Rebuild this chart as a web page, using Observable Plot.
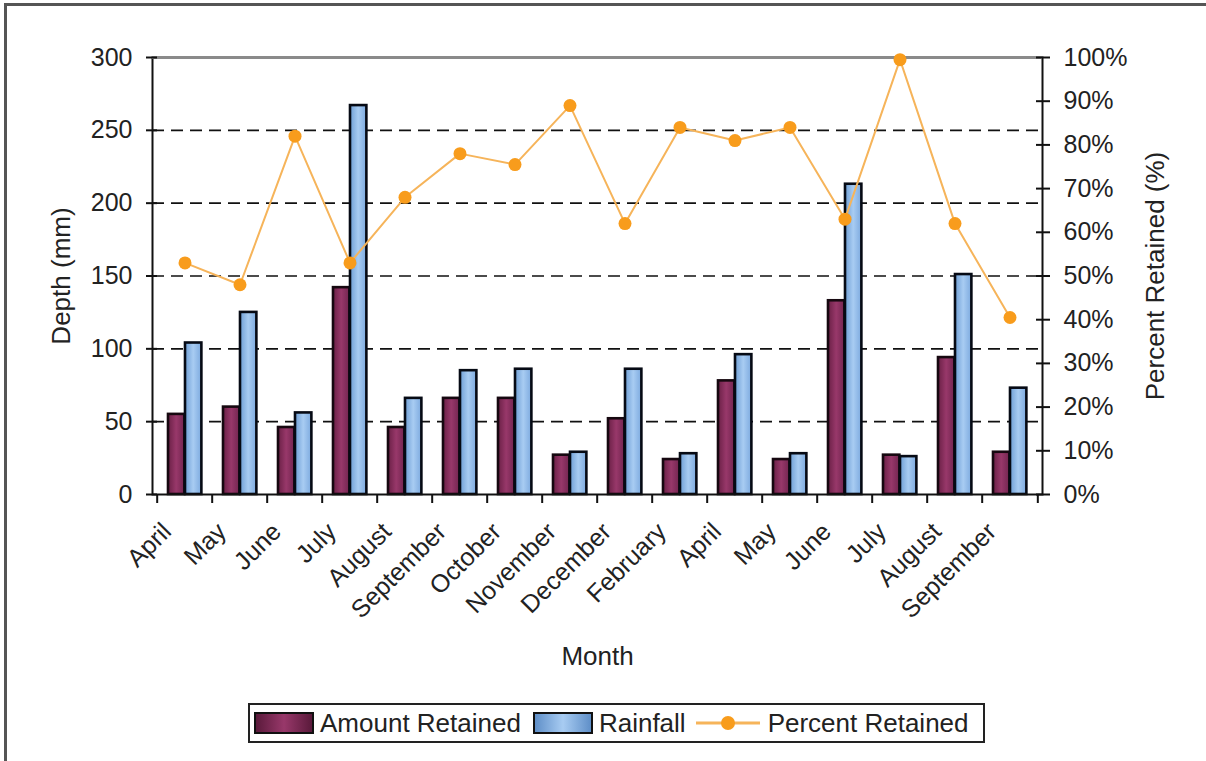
<!DOCTYPE html>
<html>
<head>
<meta charset="utf-8">
<script src="https://cdn.jsdelivr.net/npm/d3@7"></script>
<script src="https://cdn.jsdelivr.net/npm/@observablehq/plot@0.6"></script>
<style>
  html, body { margin: 0; padding: 0; background: #fff; }
  body { width: 1206px; height: 761px; position: relative; overflow: hidden; font-family: "Liberation Sans", Arial, sans-serif; color: #222; }
  #frame { position: absolute; left: 4px; top: 3px; width: 1300px; height: 800px; border-left: 3px solid #555; border-top: 3px solid #555; }
  #chart { position: absolute; left: 0; top: 0; }
  #legend { position: absolute; left: 248px; top: 703px; width: 733px; height: 36px; border: 2px solid #222; display: flex; align-items: center; font-size: 26px; white-space: nowrap; }
  .sw { display: inline-block; width: 56px; height: 18px; border: 2px solid #111; margin: 0 6px 0 4px; }
  .item { display: inline-flex; align-items: center; margin-right: 8px; }
</style>
</head>
<body>
<div id="frame"></div>
<div id="chart"></div>
<div id="legend"></div>
<script>
const months = ["April","May","June","July","August","September","October","November","December","February","April","May","June","July","August","September"];
const amountRetained = [55, 60, 46, 142, 46, 66, 66, 27, 52, 24, 78, 24, 133, 27, 94, 29];
const rainfall = [104, 125, 56, 267, 66, 85, 86, 29, 86, 28, 96, 28, 213, 26, 151, 73];
const percentRetained = [53, 48, 82, 53, 68, 78, 75.5, 89, 62, 84, 81, 84, 63, 99.5, 62, 40.5];
const depthTicks = [0, 50, 100, 150, 200, 250, 300];
const percentTicks = [0, 10, 20, 30, 40, 50, 60, 70, 80, 90, 100];
const gridValues = [50, 100, 150, 200, 250];

const seriesNames = ["Amount Retained", "Rainfall", "Percent Retained"];
const colors = { maroon: "#8A2F5E", blue: "#8DBBEA", orange: "#F89C1C", orangeLine: "#F6B45A" };

const data = months.map((m, i) => ({ i, month: m, retained: amountRetained[i], rain: rainfall[i], pct: percentRetained[i] }));
const idx = months.map((_, i) => i);

const W = 1206, H = 690, mL = 152, mR = 164, mT = 57, mB = 196;
const band = (W - mL - mR) / months.length;
const pctToDepth = 300 / 100;

const chart = Plot.plot({
  width: W, height: H,
  marginLeft: mL, marginRight: mR, marginTop: mT, marginBottom: mB,
  style: { fontFamily: "'Liberation Sans', Arial, sans-serif", fontSize: "25px", color: "#222", background: "transparent", overflow: "visible" },
  x: { type: "band", domain: idx, paddingInner: 0, paddingOuter: 0 },
  y: { domain: [0, 300] },
  marks: [
    Plot.ruleY(gridValues, { stroke: "#111", strokeWidth: 1.6, strokeDasharray: "12,7" }),
    Plot.barY(data, { x: "i", y: "retained", insetLeft: 11, insetRight: band - 28, fill: "url(#gMaroon)", stroke: "#160810", strokeWidth: 2.6 }),
    Plot.barY(data, { x: "i", y: "rain", insetLeft: 28, insetRight: band - 45, fill: "url(#gBlue)", stroke: "#060a14", strokeWidth: 2.6 }),
    Plot.frame({ stroke: "#111", strokeWidth: 2 }),
    Plot.ruleY([300], { stroke: "#8a8a8a", strokeWidth: 3 }),
    Plot.line(data, { x: "i", y: d => d.pct * pctToDepth, stroke: colors.orangeLine, strokeWidth: 2 }),
    Plot.dot(data, { x: "i", y: d => d.pct * pctToDepth, r: 6.5, fill: colors.orange, stroke: "none" }),
    // left axis
    Plot.axisY({ anchor: "left", ticks: depthTicks, tickSize: 11, dx: 5, tickPadding: 14, label: null, stroke: "#111", strokeWidth: 2 }),
    // right axis (percent)
    Plot.axisY({ anchor: "right", ticks: percentTicks.map(p => p * pctToDepth), tickFormat: v => Math.round(v / pctToDepth) + "%", tickSize: 14, dx: -7, tickPadding: 14, label: null, stroke: "#111", strokeWidth: 2 }),
    // bottom boundary ticks
    Plot.axisX({ ticks: idx, tickSize: 9, dx: -band / 2, tickFormat: () => "", label: null, stroke: "#111", strokeWidth: 2 }),
    Plot.axisX({ ticks: [idx[idx.length - 1]], tickSize: 9, dx: band / 2, tickFormat: () => "", label: null, stroke: "#111", strokeWidth: 2 }),
    // month labels
    Plot.axisX({ ticks: idx, tickSize: 0, tickRotate: -45, tickPadding: 8, dx: -18, dy: 25, tickFormat: i => months[i], label: null }),
    // titles
    Plot.text(["Depth (mm)"], { frameAnchor: "left", dx: -91, rotate: -90, textAnchor: "middle", lineAnchor: "middle", fontSize: 26, fill: "#222" }),
    Plot.text(["Percent Retained (%)"], { frameAnchor: "right", dx: 113, rotate: -90, textAnchor: "middle", lineAnchor: "middle", fontSize: 26, fill: "#222" }),
    Plot.text(["Month"], { frameAnchor: "bottom", dy: 162, textAnchor: "middle", lineAnchor: "middle", fontSize: 26, fill: "#222" })
  ]
});

// gradients for the bars
const svg = d3.select(chart);
const defs = svg.insert("defs", ":first-child");
const gm = defs.append("linearGradient").attr("id", "gMaroon").attr("x1", "0").attr("x2", "1").attr("y1", "0").attr("y2", "0");
gm.append("stop").attr("offset", "0").attr("stop-color", "#6A2046");
gm.append("stop").attr("offset", "0.5").attr("stop-color", "#98386A");
gm.append("stop").attr("offset", "1").attr("stop-color", "#732550");
const gb = defs.append("linearGradient").attr("id", "gBlue").attr("x1", "0").attr("x2", "1").attr("y1", "0").attr("y2", "0");
gb.append("stop").attr("offset", "0").attr("stop-color", "#6F9FD6");
gb.append("stop").attr("offset", "0.5").attr("stop-color", "#A8CCF2");
gb.append("stop").attr("offset", "1").attr("stop-color", "#7DAADF");

document.getElementById("chart").appendChild(chart);

// legend
const legend = document.getElementById("legend");
legend.innerHTML =
  `<span class="item"><span class="sw" style="background:linear-gradient(90deg,#5A1A3B,#98386A,#5A1A3B)"></span>${seriesNames[0]}</span>` +
  `<span class="item"><span class="sw" style="background:linear-gradient(90deg,#5F8FC8,#A8CCF2,#5F8FC8)"></span>${seriesNames[1]}</span>` +
  `<span class="item"><svg width="68" height="24" style="margin:0 4px 0 2px"><line x1="0" x2="64" y1="12" y2="12" stroke="${colors.orangeLine}" stroke-width="3"/><circle cx="32" cy="12" r="7" fill="${colors.orange}"/></svg>${seriesNames[2]}</span>`;
</script>
</body>
</html>
